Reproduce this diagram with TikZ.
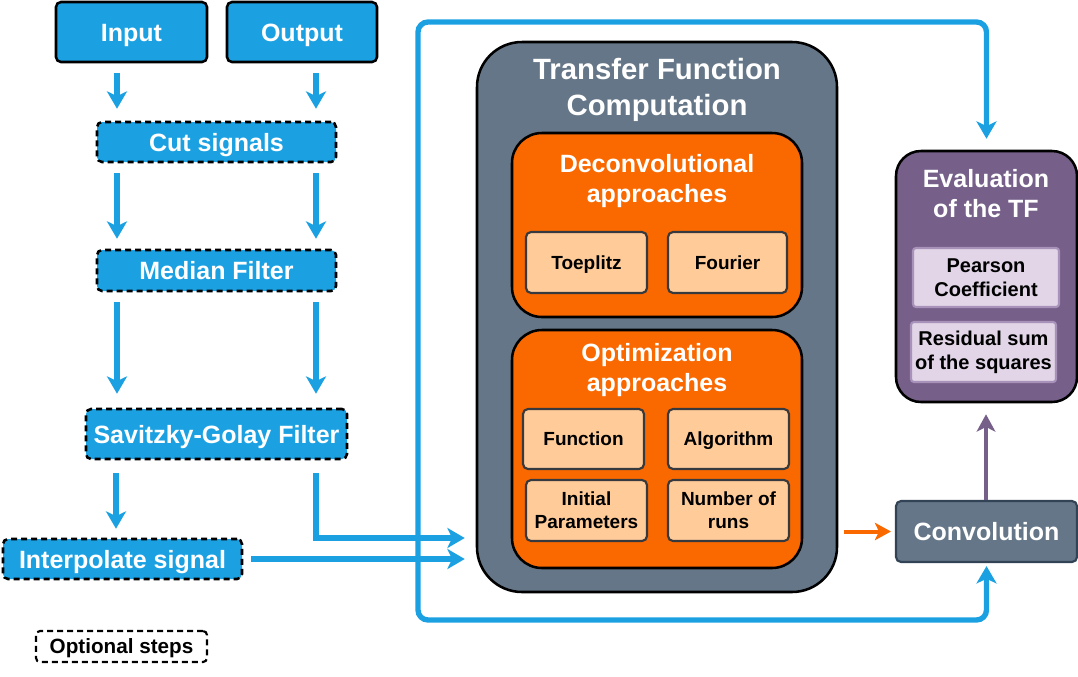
\documentclass[tikz,border=0pt]{standalone}
\usepackage{fontspec}
\setmainfont{Liberation Sans}
\usetikzlibrary{arrows.meta}
\definecolor{cblue}{HTML}{1BA1E2}
\definecolor{cslate}{HTML}{647687}
\definecolor{corange}{HTML}{FA6800}
\definecolor{cpeach}{HTML}{FFCC99}
\definecolor{cpurple}{HTML}{76608A}
\definecolor{clav}{HTML}{E1D5E7}
\definecolor{clavb}{HTML}{A892BA}
\definecolor{cdark}{HTML}{36393D}
\definecolor{cconvb}{HTML}{314354}
\def\px{0.75pt}
\tikzset{
  base/.style={align=center, inner sep=0pt, font=\bfseries},
  oneline/.style={text height=0.72*#1, text depth=0pt},
  bluebox/.style={base, oneline=18.75pt, fill=cblue, draw=black, line width=1.9pt, rounded corners=5*\px, text=white, font=\bfseries\fontsize{18.75}{22.5}\selectfont},
  dashbox/.style={bluebox, dashed, dash pattern=on 4.5pt off 3pt},
  bigbox/.style={base, fill=cslate, draw=black, line width=1.9pt, rounded corners=45*\px},
  orbox/.style={base, fill=corange, draw=black, line width=1.9pt, rounded corners=30*\px},
  peachbox/.style={base, fill=cpeach, draw=cdark, line width=1.6pt, rounded corners=5*\px, text=black, font=\bfseries\fontsize{14.25}{17.5}\selectfont},
  lavbox/.style={base, fill=clav, draw=clavb, line width=1.6pt, rounded corners=3*\px, text=black, font=\bfseries\fontsize{15}{18}\selectfont},
  title/.style={base, text=white, font=\bfseries\fontsize{18.75}{22.5}\selectfont},
  barrow/.style={draw=cblue, line width=4pt, -{Stealth[length=13pt, width=15pt, inset=3.5pt]}},
  oarrow/.style={draw=corange, line width=3pt, -{Stealth[length=12pt, width=13pt, inset=3pt]}},
  parrow/.style={draw=cpurple, line width=3pt, -{Stealth[length=13pt, width=14pt, inset=3.5pt]}},
}
\begin{document}
\begin{tikzpicture}[x=0.75pt, y=-0.75pt]
\useasboundingbox (0,0) rectangle (1078,676);

% left column
\node[bluebox, minimum width=151*\px, minimum height=60*\px] (input) at (131.5,32) {Input};
\node[bluebox, minimum width=150*\px, minimum height=60*\px] (output) at (302,32) {Output};
\node[dashbox, minimum width=239*\px, minimum height=40*\px] (cut) at (216.5,142) {Cut signals};
\node[dashbox, minimum width=239*\px, minimum height=41*\px] (median) at (216.5,270.5) {Median Filter};
\node[dashbox, minimum width=261*\px, minimum height=50*\px] (sav) at (216.5,434) {Savitzky-Golay Filter};
\node[dashbox, minimum width=239*\px, minimum height=40*\px] (interp) at (122.5,559) {Interpolate signal};
\node[base, oneline=15.5pt, draw=black, line width=1.6pt, dashed, dash pattern=on 4.5pt off 3pt, rounded corners=4*\px, fill=white, minimum width=171*\px, minimum height=31*\px, font=\bfseries\fontsize{15.5}{18}\selectfont] (opt) at (121.5,646.5) {Optional steps};

% transfer function block
\node[bigbox, minimum width=360*\px, minimum height=550*\px] (tf) at (657,317) {};
\node[title, font=\bfseries\fontsize{22}{27}\selectfont] (tftitle) at (657,90) {Transfer Function\\Computation};
\node[orbox, minimum width=290*\px, minimum height=184*\px] (decon) at (657,225) {};
\node[title] (decontitle) at (657,181) {Deconvolutional\\approaches};
\node[peachbox, oneline=14.25pt, minimum width=121*\px, minimum height=61*\px] (toep) at (586.5,262.5) {Toeplitz};
\node[peachbox, oneline=14.25pt, minimum width=119*\px, minimum height=61*\px] (four) at (727.5,262.5) {Fourier};
\node[orbox, minimum width=290*\px, minimum height=238*\px] (optim) at (657,449) {};
\node[title] (optimtitle) at (657,370) {Optimization\\approaches};
\node[peachbox, oneline=14.25pt, minimum width=121*\px, minimum height=60*\px] (func) at (583.5,439) {Function};
\node[peachbox, oneline=14.25pt, minimum width=121*\px, minimum height=60*\px] (algo) at (728.5,439) {Algorithm};
\node[peachbox, minimum width=121*\px, minimum height=61*\px] (init) at (586.5,510.5) {Initial\\Parameters};
\node[peachbox, minimum width=121*\px, minimum height=61*\px] (runs) at (728.5,510.5) {Number of\\runs};

% evaluation block
\node[base, fill=cpurple, draw=black, line width=1.9pt, rounded corners=25*\px, minimum width=181*\px, minimum height=251*\px] (eval) at (986.5,276.5) {};
\node[title] (evaltitle) at (986,194) {Evaluation\\of the TF};
\node[lavbox, minimum width=146*\px, minimum height=59*\px] (pear) at (986,277.5) {Pearson\\Coefficient};
\node[lavbox, minimum width=145*\px, minimum height=60*\px] (rss) at (983.5,352) {Residual sum\\of the squares};

% convolution
\node[base, oneline=18.75pt, fill=cslate, draw=cconvb, line width=1.6pt, rounded corners=5*\px, minimum width=181*\px, minimum height=61*\px, text=white, font=\bfseries\fontsize{18.75}{22.5}\selectfont] (conv) at (986.5,531.5) {Convolution};

% coordinates for columns and the loop
\coordinate (colL) at (117,0);
\coordinate (colR) at (316,0);
\coordinate (colS) at (116,0);
\coordinate (loopTL) at (418,22);
\coordinate (loopBL) at (418,620);
\coordinate (savR) at (316,538);
\coordinate (colE) at (986,0);

% left column arrows
\draw[barrow, shorten <=10*\px, shorten >=12*\px] (input.south -| colL) -- (cut.north -| colL);
\draw[barrow, shorten <=10*\px, shorten >=12*\px] (output.south -| colR) -- (cut.north -| colR);
\draw[barrow, shorten <=10*\px, shorten >=10*\px] (cut.south -| colL) -- (median.north -| colL);
\draw[barrow, shorten <=10*\px, shorten >=10*\px] (cut.south -| colR) -- (median.north -| colR);
\draw[barrow, shorten <=10*\px, shorten >=14*\px] (median.south -| colL) -- (sav.north -| colL);
\draw[barrow, shorten <=10*\px, shorten >=14*\px] (median.south -| colR) -- (sav.north -| colR);
\draw[barrow, shorten <=13*\px, shorten >=9*\px] (sav.south -| colS) -- (interp.north -| colS);
\draw[barrow, shorten <=13*\px, shorten >=11*\px] (sav.south -| colR) -- (savR) -- (savR -| tf.west);

% loop
\draw[draw=cblue, line width=4pt, rounded corners=10*\px,
  {Stealth[length=13pt, width=15pt, inset=3.5pt]}-{Stealth[length=13pt, width=15pt, inset=3.5pt]},
  shorten <=11*\px, shorten >=3*\px]
  (eval.north) |- (loopTL) -- (loopBL) -| (conv.south);

\draw[barrow, shorten <=8*\px, shorten >=11*\px] (interp.east) -- (interp.east -| tf.west);

% right side arrows
\draw[oarrow, shorten <=6*\px, shorten >=4*\px] (tf.east |- conv.west) -- (conv.west);
\draw[parrow, shorten >=11*\px] (conv.north -| colE) -- (eval.south -| colE);
\end{tikzpicture}
\end{document}
